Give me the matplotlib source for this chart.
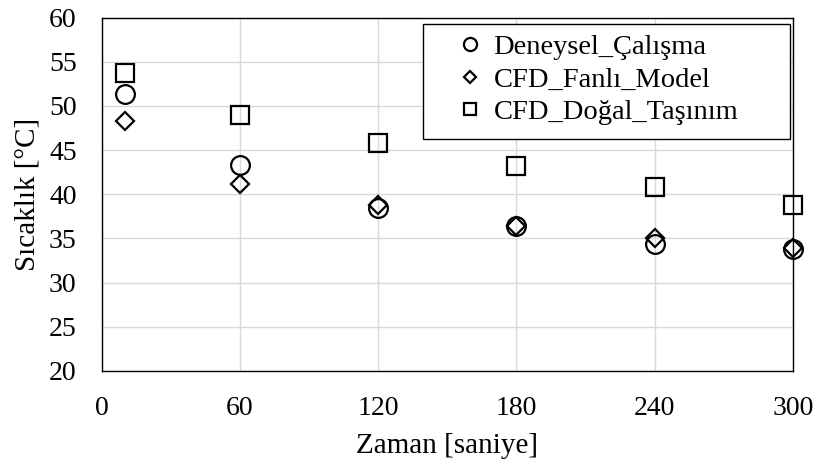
import matplotlib
matplotlib.use("Agg")
import matplotlib.pyplot as plt
from matplotlib.patches import Rectangle

zaman = [10, 60, 120, 180, 240, 300]
deneysel = [51.4, 43.3, 38.5, 36.4, 34.4, 33.8]
cfd_fanli = [48.3, 41.2, 38.8, 36.4, 35.0, 33.9]
cfd_dogal = [53.7, 49.0, 45.8, 43.2, 40.8, 38.8]

xticks = [0, 60, 120, 180, 240, 300]
yticks = [20, 25, 30, 35, 40, 45, 50, 55, 60]

plt.rcParams['font.family'] = ['Liberation Serif', 'DejaVu Serif']

fig = plt.figure(figsize=(8.18, 4.66), dpi=100)
ax = fig.add_axes([0.1243, 0.2039, 0.9694 - 0.1243, 0.9624 - 0.2039])

ax.plot(zaman, deneysel, linestyle='none', marker='o', markersize=13.5,
        markerfacecolor='none', markeredgecolor='black', markeredgewidth=1.6,
        label='Deneysel_Çalışma', clip_on=False, zorder=3)
ax.plot(zaman, cfd_fanli, linestyle='none', marker='D', markersize=9.2,
        markerfacecolor='none', markeredgecolor='black', markeredgewidth=1.6,
        label='CFD_Fanlı_Model', clip_on=False, zorder=3)
ax.plot(zaman, cfd_dogal, linestyle='none', marker='s', markersize=13,
        markerfacecolor='none', markeredgecolor='black', markeredgewidth=1.6,
        label='CFD_Doğal_Taşınım', clip_on=False, zorder=3)

ax.set_xlim(0, 300)
ax.set_ylim(20, 60)
ax.set_xticks(xticks)
ax.set_yticks(yticks)
ax.grid(True, color='#d9d9d9', linewidth=1.0)
ax.set_axisbelow(True)
for s in ax.spines.values():
    s.set_color('black')
    s.set_linewidth(1.0)
ax.tick_params(axis='both', length=0, labelsize=20)
ax.tick_params(axis='x', pad=18)
ax.tick_params(axis='y', pad=18)

ax.set_xlabel('Zaman [saniye]', fontsize=21, labelpad=9)
ax.set_ylabel('Sıcaklık [°C]', fontsize=21, labelpad=6)

# legend frame drawn separately
ax.add_patch(Rectangle((0.4648, 0.6563), 0.9957 - 0.4648, 0.9816 - 0.6563,
                       transform=ax.transAxes, facecolor='white',
                       edgecolor='black', linewidth=1.0, zorder=4))

leg = ax.legend(loc='upper left', bbox_to_anchor=(0.5163, 0.9534), fontsize=20.5,
                frameon=False, markerscale=0.7, handlelength=0.8,
                handletextpad=0.43, borderpad=0.0, labelspacing=0.24,
                borderaxespad=0.0)
leg.set_zorder(5)

fig.savefig('out.png', dpi=100)
